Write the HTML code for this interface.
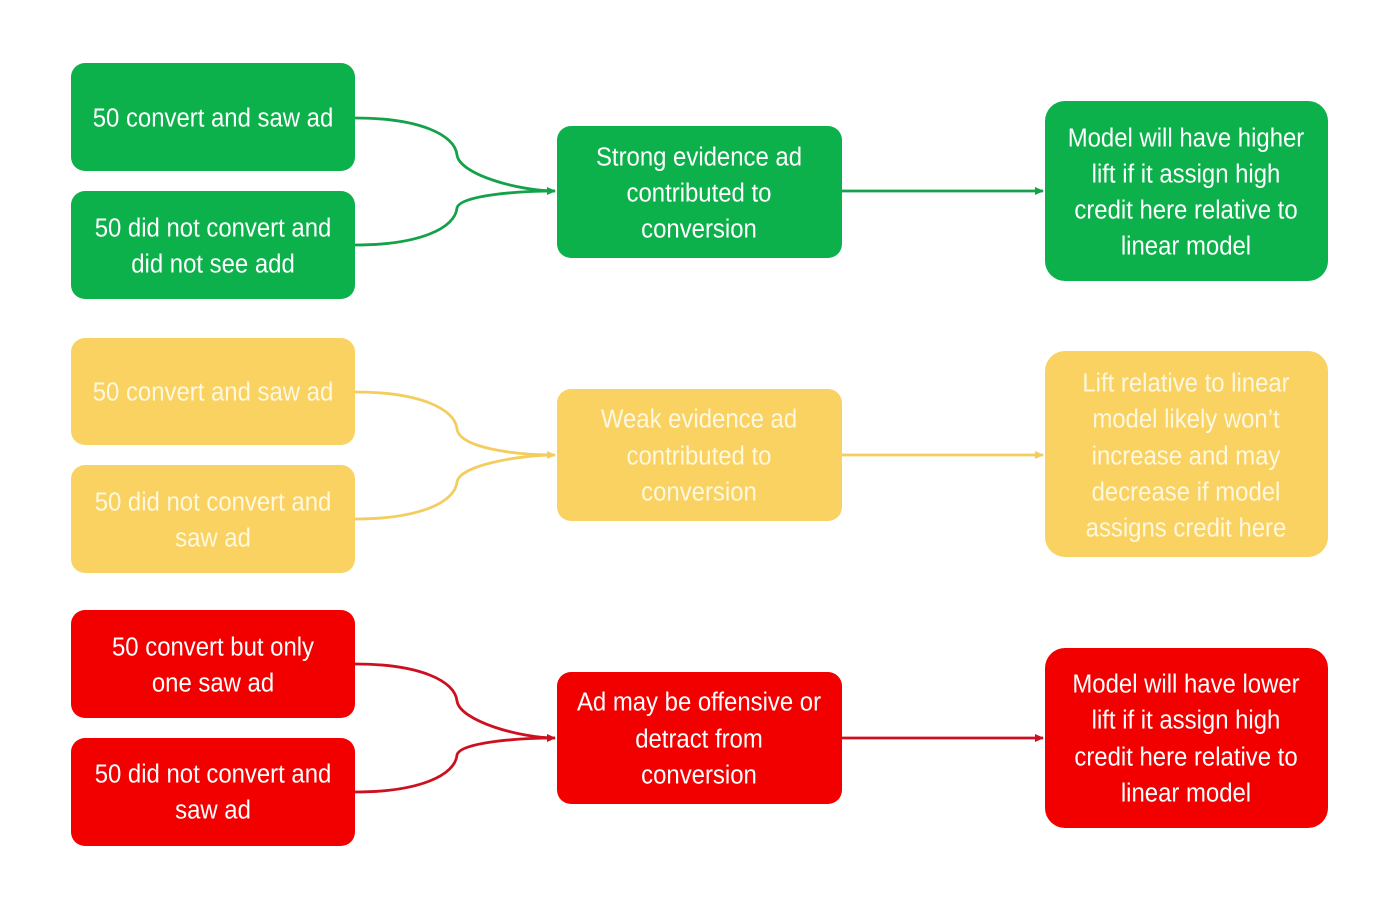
<!DOCTYPE html>
<html><head><meta charset="utf-8"><style>
html,body{margin:0;padding:0;background:#fff;}
svg{display:block;}
text{font-family:"Liberation Sans",sans-serif;font-size:26px;text-anchor:middle;dominant-baseline:central;transform-box:fill-box;transform-origin:center;transform:scaleX(0.92);}
</style></head><body>
<svg width="1400" height="910" viewBox="0 0 1400 910" xmlns="http://www.w3.org/2000/svg">
<defs>
<marker id="ag" markerWidth="10" markerHeight="10" refX="8" refY="5" orient="auto" markerUnits="userSpaceOnUse"><path d="M0,1 L9,5 L0,9 z" fill="#13a24a"/></marker>
<marker id="ay" markerWidth="10" markerHeight="10" refX="8" refY="5" orient="auto" markerUnits="userSpaceOnUse"><path d="M0,1 L9,5 L0,9 z" fill="#f3cd5e"/></marker>
<marker id="ar" markerWidth="10" markerHeight="10" refX="8" refY="5" orient="auto" markerUnits="userSpaceOnUse"><path d="M0,1 L9,5 L0,9 z" fill="#cc1020"/></marker>
</defs>

<g fill="none" stroke="#13a24a" stroke-width="2.8">
<path d="M355,118 C420,118 455,135 457,155 C460,175 520,191 555,191" marker-end="url(#ag)"/>
<path d="M355,245 C420,245 455,228 457,208 C460,195 520,191 555,191"/>
<path d="M842,191 L1043,191" marker-end="url(#ag)"/>
</g>
<g fill="#0db14b">
<rect x="71" y="63" width="284" height="108" rx="14"/>
<rect x="71" y="191" width="284" height="108" rx="14"/>
<rect x="557" y="126" width="285" height="132" rx="14"/>
<rect x="1045" y="101" width="283" height="180" rx="20"/>
</g>
<g fill="#fff">
<text x="213" y="118">50 convert and saw ad</text>
<text x="213" y="228">50 did not convert and</text>
<text x="213" y="264">did not see add</text>
<text x="699" y="157">Strong evidence ad</text>
<text x="699" y="193">contributed to</text>
<text x="699" y="229">conversion</text>
<text x="1186" y="138">Model will have higher</text>
<text x="1186" y="174">lift if it assign high</text>
<text x="1186" y="210">credit here relative to</text>
<text x="1186" y="246">linear model</text>
</g>

<g fill="none" stroke="#f3cd5e" stroke-width="2.8">
<path d="M355,392 C420,392 455,409 457,429 C460,449 520,455 555,455" marker-end="url(#ay)"/>
<path d="M355,519 C420,519 455,502 457,482 C460,465 520,455 555,455"/>
<path d="M842,455 L1043,455" marker-end="url(#ay)"/>
</g>
<g fill="#f9d262">
<rect x="71" y="338" width="284" height="107" rx="14"/>
<rect x="71" y="465" width="284" height="108" rx="14"/>
<rect x="557" y="389" width="285" height="132" rx="14"/>
<rect x="1045" y="351" width="283" height="206" rx="20"/>
</g>
<g fill="#fff8e0">
<text x="213" y="392">50 convert and saw ad</text>
<text x="213" y="502">50 did not convert and</text>
<text x="213" y="538">saw ad</text>
<text x="699" y="419">Weak evidence ad</text>
<text x="699" y="456">contributed to</text>
<text x="699" y="492">conversion</text>
<text x="1186" y="383">Lift relative to linear</text>
<text x="1186" y="419">model likely won’t</text>
<text x="1186" y="456">increase and may</text>
<text x="1186" y="492">decrease if model</text>
<text x="1186" y="528">assigns credit here</text>
</g>

<g fill="none" stroke="#cc1020" stroke-width="2.8">
<path d="M355,664 C420,664 455,681 457,701 C460,721 520,738 555,738" marker-end="url(#ar)"/>
<path d="M355,792 C420,792 455,775 457,755 C460,742 520,738 555,738"/>
<path d="M842,738 L1043,738" marker-end="url(#ar)"/>
</g>
<g fill="#f20000">
<rect x="71" y="610" width="284" height="108" rx="14"/>
<rect x="71" y="738" width="284" height="108" rx="14"/>
<rect x="557" y="672" width="285" height="132" rx="14"/>
<rect x="1045" y="648" width="283" height="180" rx="20"/>
</g>
<g fill="#fff">
<text x="213" y="647">50 convert but only</text>
<text x="213" y="683">one saw ad</text>
<text x="213" y="774">50 did not convert and</text>
<text x="213" y="810">saw ad</text>
<text x="699" y="702">Ad may be offensive or</text>
<text x="699" y="739">detract from</text>
<text x="699" y="775">conversion</text>
<text x="1186" y="684">Model will have lower</text>
<text x="1186" y="720">lift if it assign high</text>
<text x="1186" y="757">credit here relative to</text>
<text x="1186" y="793">linear model</text>
</g>
</svg>
</body></html>
